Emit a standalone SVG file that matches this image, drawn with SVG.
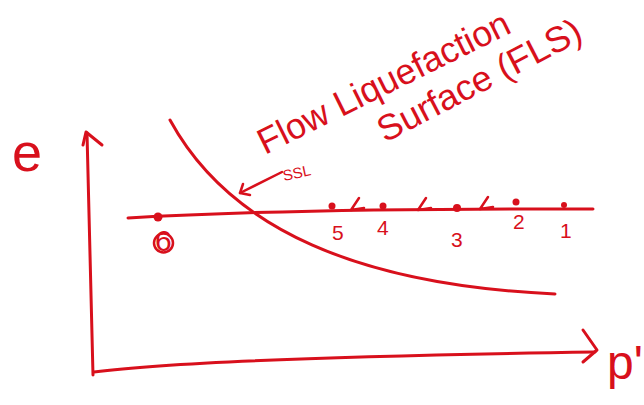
<svg xmlns="http://www.w3.org/2000/svg" width="644" height="405" viewBox="0 0 644 405">
<style>
.ink{fill:none;stroke:#d8101c;stroke-width:3;stroke-linecap:round;stroke-linejoin:round}
.thin{fill:none;stroke:#d8101c;stroke-width:2.5;stroke-linecap:round;stroke-linejoin:round}
.dot{fill:#d8101c}
.t{fill:#d8101c;font-family:"Liberation Sans",Arial,sans-serif}
</style>
<rect width="644" height="405" fill="#ffffff"/>
<g id="axes">
<path class="ink" d="M93,375 L87,133"/>
<path class="ink" d="M83,145 L86,132 L102,145"/>
<path class="ink" d="M94,372 Q200,358 595,352"/>
<path class="ink" d="M583,330 L597,350 L583,362"/>
<text class="t" x="12" y="171" font-size="54">e</text>
<text class="t" x="607" y="379" font-size="48">p'</text>
</g>
<g id="fls-curve">
<path class="ink" d="M170,120 C230,230 360,285 555,294"/>
</g>
<g id="ssl-label">
<path class="thin" d="M282,172 L240,193"/>
<path class="thin" d="M243,184 L240,193 L250,195"/>
<text class="t" x="284" y="181" font-size="15" transform="rotate(-12 284 181)">SSL</text>
</g>
<g id="fls-label">
<text class="t" x="265" y="155" font-size="36" textLength="277" lengthAdjust="spacingAndGlyphs" transform="rotate(-26.4 265 155)">Flow Liquefaction</text>
<text class="t" x="385" y="143" font-size="36" textLength="225" lengthAdjust="spacingAndGlyphs" transform="rotate(-27.5 385 143)">Surface (FLS)</text>
</g>
<g id="state-line">
<path class="ink" d="M128,218 Q300,208 593,209"/>
<path class="thin" d="M359,198 L351,210 L364,208"/>
<path class="thin" d="M426,198 L418,210 L431,208"/>
<path class="thin" d="M488,197 L480,209 L493,207"/>
</g>
<g id="point-6"><circle class="dot" cx="158" cy="217" r="4.5"/><text class="t" x="155" y="251" font-size="30">6</text><circle class="thin" cx="163.5" cy="243" r="9.5"/></g>
<g id="point-5"><circle class="dot" cx="332" cy="206" r="3.5"/><text class="t" x="332" y="240" font-size="21">5</text></g>
<g id="point-4"><circle class="dot" cx="383" cy="206" r="3.5"/><text class="t" x="377" y="235" font-size="21">4</text></g>
<g id="point-3"><circle class="dot" cx="457" cy="208" r="4"/><text class="t" x="451" y="247" font-size="21">3</text></g>
<g id="point-2"><circle class="dot" cx="516" cy="202" r="3.5"/><text class="t" x="513" y="229" font-size="21">2</text></g>
<g id="point-1"><circle class="dot" cx="564" cy="205" r="3"/><text class="t" x="560" y="238" font-size="21">1</text></g>
</svg>
